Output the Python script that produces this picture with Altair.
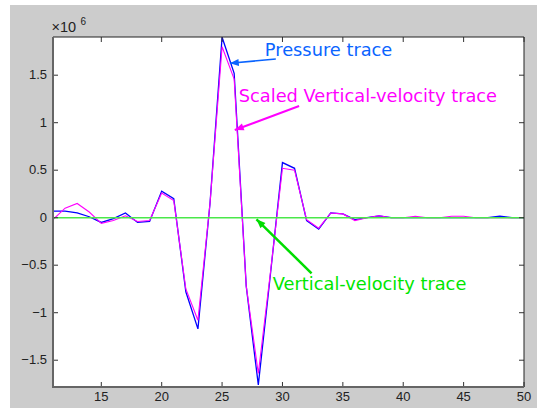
import math
import altair as alt
import pandas as pd

# ---------------- data (values in units of 1e6) ----------------
sample = list(range(11, 51))
pressure = [0.07, 0.07, 0.05, 0.01, -0.05, -0.01, 0.05, -0.05, -0.04, 0.28,
            0.20, -0.78, -1.17, 0.15, 1.90, 1.52, -0.72, -1.76, -0.60, 0.58,
            0.52, -0.03, -0.12, 0.05, 0.04, -0.02, 0.00, 0.02, 0.00, 0.00,
            0.00, 0.00, 0.00, 0.00, 0.00, 0.00, 0.00, 0.015, 0.00, 0.00]
scaled_vv = [-0.02, 0.10, 0.15, 0.06, -0.06, -0.03, 0.02, -0.04, -0.03, 0.26,
             0.18, -0.75, -1.08, 0.15, 1.80, 1.46, -0.72, -1.64, -0.58, 0.52,
             0.50, -0.02, -0.11, 0.05, 0.04, -0.03, 0.00, 0.02, 0.00, 0.00,
             0.015, 0.00, 0.00, 0.015, 0.015, 0.00, 0.00, 0.00, 0.00, 0.00]
vertical_v = [0.0] * len(sample)

x_ticks = [15, 20, 25, 30, 35, 40, 45, 50]
y_ticks = [-1.5, -1, -0.5, 0, 0.5, 1, 1.5]
x_domain = [11, 50]
y_domain = [-1.782, 1.902]

label_text = ["Pressure trace", "Scaled Vertical-velocity trace", "Vertical-velocity trace"]
label_x = [28.54, 26.38, 29.2]
label_y = [1.707, 1.223, -0.756]
label_color = ["#0A64FF", "#FF00FF", "#00E600"]

arrow_x0 = [29.45, 31.38, 32.41]
arrow_y0 = [1.671, 1.176, -0.585]
arrow_x1 = [25.64, 26.05, 27.85]
arrow_y1 = [1.625, 0.923, -0.017]
arrow_color = ["#0A64FF", "#FF00FF", "#00DD00"]
arrow_width = [1.6, 2.0, 2.5]

# ---------------- layout ----------------
W, H = 471, 350
PAD = {"left": 53, "top": 37, "right": 14, "bottom": 23}
FONT = "Liberation Sans"
AFONT = "DejaVu Sans"

df = pd.DataFrame({"sample": sample, "Pressure": pressure,
                   "Scaled": scaled_vv, "Vertical": vertical_v})

xs = alt.Scale(domain=x_domain, nice=False, zero=False)
ys = alt.Scale(domain=y_domain, nice=False, zero=False)

kx = W / (x_domain[1] - x_domain[0])
ky = H / (y_domain[1] - y_domain[0])
angles = []
for a, b, c, d in zip(arrow_x0, arrow_y0, arrow_x1, arrow_y1):
    dx = (c - a) * kx
    dy = -(d - b) * ky
    angles.append(math.degrees(math.atan2(dx, -dy)) % 360)

arrows = pd.DataFrame({"x0": arrow_x0, "y0": arrow_y0, "x1": arrow_x1, "y1": arrow_y1,
                       "color": arrow_color, "w": arrow_width, "angle": angles})
labels = pd.DataFrame({"x": label_x, "y": label_y, "text": label_text, "color": label_color})
one = pd.DataFrame({"a": [0]})
xt = pd.DataFrame({"v": x_ticks})
yt = pd.DataFrame({"v": y_ticks})

grey_bg = alt.Chart(one).mark_rect(color="#CCCCCC").encode(
    x=alt.value(-43), x2=alt.value(484), y=alt.value(-32), y2=alt.value(371))
white_bg = alt.Chart(one).mark_rect(color="white").encode(
    x=alt.value(0), x2=alt.value(W), y=alt.value(0), y2=alt.value(H))

blue = alt.Chart(df).mark_line(color="#0000FF", strokeWidth=1.3, clip=True).encode(
    x=alt.X("sample:Q", scale=xs, axis=None),
    y=alt.Y("Pressure:Q", scale=ys, axis=None))
magenta = alt.Chart(df).mark_line(color="#FF00FF", strokeWidth=1.1, clip=True).encode(
    x=alt.X("sample:Q", scale=xs, axis=None),
    y=alt.Y("Scaled:Q", scale=ys, axis=None))
green = alt.Chart(df).mark_line(color="#4AE84A", strokeWidth=1.6, clip=True).encode(
    x=alt.X("sample:Q", scale=xs, axis=None),
    y=alt.Y("Vertical:Q", scale=ys, axis=None))

tick_col = "#333333"
t_left = alt.Chart(yt).mark_rule(color=tick_col).encode(
    y=alt.Y("v:Q", scale=ys, axis=None), x=alt.value(0), x2=alt.value(5))
t_right = alt.Chart(yt).mark_rule(color=tick_col).encode(
    y=alt.Y("v:Q", scale=ys, axis=None), x=alt.value(W - 5), x2=alt.value(W))
t_bottom = alt.Chart(xt).mark_rule(color=tick_col).encode(
    x=alt.X("v:Q", scale=xs, axis=None), y=alt.value(H - 5), y2=alt.value(H))
t_top = alt.Chart(xt).mark_rule(color=tick_col).encode(
    x=alt.X("v:Q", scale=xs, axis=None), y=alt.value(0), y2=alt.value(5))

y_labels = alt.Chart(yt).mark_text(align="right", baseline="middle", font=FONT,
                                   fontSize=13, color="#222222").encode(
    y=alt.Y("v:Q", scale=ys, axis=None), x=alt.value(-6),
    text=alt.Text("v:Q", format="~g"))
x_labels = alt.Chart(xt).mark_text(align="center", baseline="top", font=FONT,
                                   fontSize=13, color="#222222").encode(
    x=alt.X("v:Q", scale=xs, axis=None), y=alt.value(H + 4),
    text=alt.Text("v:Q", format="d"))

border = alt.Chart(one).mark_rect(fillOpacity=0, stroke="#222222", strokeWidth=1).encode(
    x=alt.value(0), x2=alt.value(W), y=alt.value(0), y2=alt.value(H))
dom_left = alt.Chart(one).mark_rule(color="#666666", strokeWidth=2).encode(
    x=alt.value(0), y=alt.value(0), y2=alt.value(H + 1))
dom_bottom = alt.Chart(one).mark_rule(color="#666666", strokeWidth=2).encode(
    x=alt.value(-1), x2=alt.value(W), y=alt.value(H))

arrow_lines = alt.Chart(arrows).mark_rule().encode(
    x=alt.X("x0:Q", scale=xs, axis=None), y=alt.Y("y0:Q", scale=ys, axis=None),
    x2="x1:Q", y2="y1:Q",
    color=alt.Color("color:N", scale=None),
    strokeWidth=alt.StrokeWidth("w:Q", scale=None))
arrow_heads = alt.Chart(arrows).mark_point(
    shape="M0,0 L0.4,1 L-0.4,1 Z", filled=True, size=324, opacity=1, strokeWidth=0).encode(
    x=alt.X("x1:Q", scale=xs, axis=None), y=alt.Y("y1:Q", scale=ys, axis=None),
    angle=alt.Angle("angle:Q", scale=None),
    color=alt.Color("color:N", scale=None))

texts = alt.Chart(labels).mark_text(align="left", baseline="alphabetic",
                                    font=AFONT, fontSize=17.8).encode(
    x=alt.X("x:Q", scale=xs, axis=None), y=alt.Y("y:Q", scale=ys, axis=None),
    text="text:N", color=alt.Color("color:N", scale=None))

exp_base = alt.Chart(one).mark_text(align="left", baseline="alphabetic", font=FONT,
                                     fontSize=14.5, color="#222222").encode(
    x=alt.value(-1.5), y=alt.value(-5.5), text=alt.value("×10"))
exp_sup = alt.Chart(one).mark_text(align="left", baseline="alphabetic", font=FONT,
                                    fontSize=10, color="#222222").encode(
    x=alt.value(27.5), y=alt.value(-12.5), text=alt.value("6"))

chart = alt.layer(
    grey_bg, white_bg, blue, magenta, green,
    t_left, t_right, t_bottom, t_top, border, dom_left, dom_bottom,
    y_labels, x_labels,
    arrow_lines, arrow_heads, texts, exp_base, exp_sup
).properties(
    width=W, height=H, padding=PAD,
    autosize=alt.AutoSizeParams(type="none")
).configure(background="white").configure_view(stroke=None)

chart.save("out.html", embed_options={"renderer": "svg", "actions": False})
